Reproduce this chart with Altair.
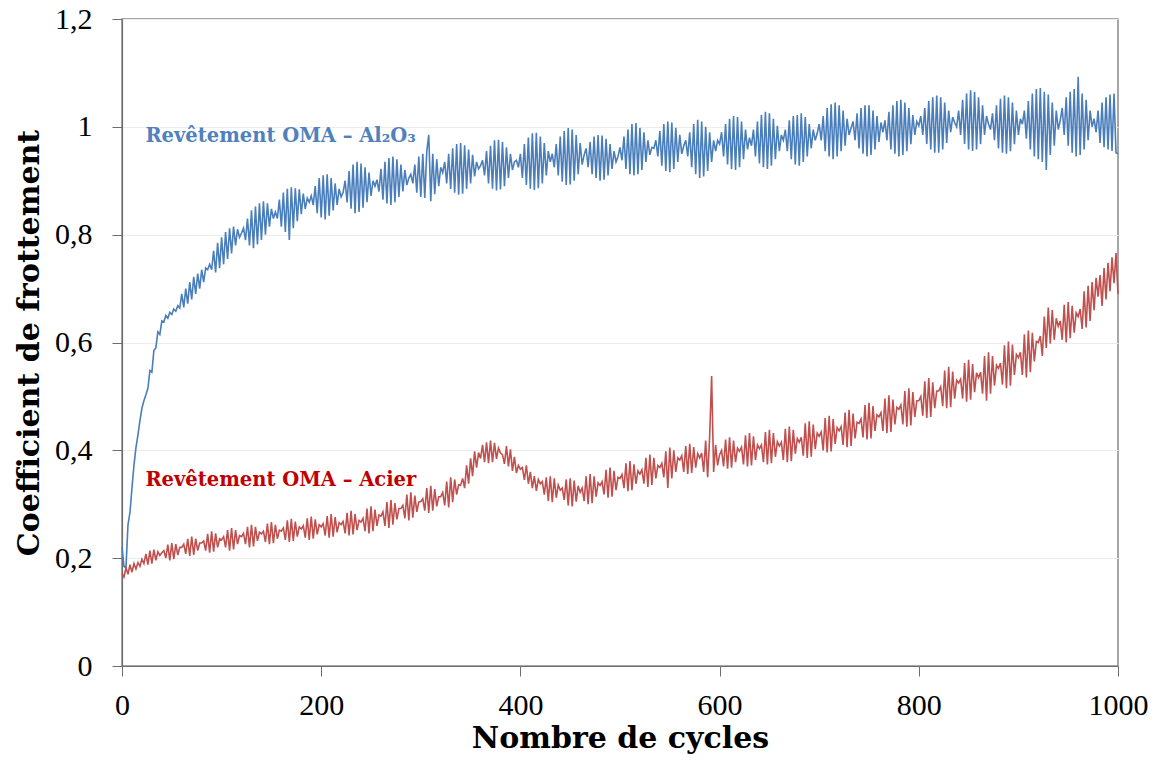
import altair as alt
import pandas as pd

# ---- data (cycles every 2) ----
blue_vals = [
    0.220, 0.185, 0.182, 0.262, 0.285, 0.330, 0.372, 0.405, 0.428, 0.455,
    0.478, 0.492, 0.503, 0.515, 0.548, 0.545, 0.585, 0.590, 0.620, 0.615,
    0.640, 0.638, 0.650, 0.645, 0.656, 0.652, 0.662, 0.658, 0.668, 0.664,
    0.690, 0.665, 0.700, 0.672, 0.712, 0.680, 0.722, 0.690, 0.728, 0.700,
    0.735, 0.712, 0.738, 0.735, 0.745, 0.735, 0.770, 0.730, 0.785, 0.738,
    0.795, 0.745, 0.805, 0.755, 0.812, 0.765, 0.815, 0.780, 0.810, 0.795,
    0.803, 0.812, 0.790, 0.830, 0.780, 0.845, 0.775, 0.852, 0.782, 0.858,
    0.790, 0.862, 0.800, 0.858, 0.815, 0.848, 0.830, 0.842, 0.830, 0.865,
    0.815, 0.878, 0.805, 0.885, 0.790, 0.888, 0.812, 0.886, 0.825, 0.884,
    0.838, 0.876, 0.848, 0.868, 0.860, 0.872, 0.855, 0.890, 0.840, 0.905,
    0.832, 0.910, 0.828, 0.912, 0.835, 0.905, 0.845, 0.895, 0.855, 0.885,
    0.870, 0.878, 0.900, 0.860, 0.918, 0.848, 0.930, 0.840, 0.935, 0.842,
    0.932, 0.850, 0.925, 0.860, 0.915, 0.872, 0.900, 0.890, 0.902, 0.880,
    0.922, 0.865, 0.935, 0.858, 0.942, 0.855, 0.945, 0.860, 0.940, 0.870,
    0.930, 0.880, 0.920, 0.892, 0.905, 0.912, 0.895, 0.930, 0.878, 0.945,
    0.870, 0.950, 0.868, 0.955, 0.985, 0.862, 0.950, 0.875, 0.940, 0.890,
    0.925, 0.915, 0.935, 0.895, 0.950, 0.885, 0.960, 0.878, 0.968, 0.874,
    0.970, 0.876, 0.966, 0.885, 0.958, 0.895, 0.948, 0.908, 0.935, 0.922,
    0.928, 0.938, 0.910, 0.955, 0.895, 0.965, 0.885, 0.975, 0.882, 0.976,
    0.884, 0.972, 0.890, 0.962, 0.905, 0.950, 0.920, 0.935, 0.938, 0.925,
    0.950, 0.905, 0.968, 0.892, 0.980, 0.885, 0.988, 0.883, 0.989, 0.886,
    0.982, 0.895, 0.970, 0.910, 0.955, 0.935, 0.950, 0.925, 0.968, 0.910,
    0.982, 0.898, 0.992, 0.892, 0.998, 0.893, 0.995, 0.900, 0.985, 0.912,
    0.970, 0.930, 0.948, 0.960, 0.925, 0.972, 0.912, 0.982, 0.905, 0.985,
    0.900, 0.984, 0.902, 0.978, 0.910, 0.968, 0.922, 0.955, 0.935, 0.945,
    0.962, 0.938, 0.982, 0.922, 0.995, 0.912, 1.005, 0.910, 1.007, 0.912,
    0.998, 0.920, 0.990, 0.935, 0.975, 0.948, 0.962, 0.960, 0.975, 0.945,
    0.992, 0.928, 1.005, 0.918, 1.010, 0.916, 1.008, 0.922, 0.998, 0.935,
    0.985, 0.950, 0.965, 0.975, 0.945, 0.990, 0.925, 1.005, 0.912, 1.013,
    0.905, 1.010, 0.908, 1.000, 0.918, 0.990, 0.935, 0.975, 0.955, 0.975,
    0.968, 0.990, 0.945, 1.005, 0.930, 1.015, 0.922, 1.020, 0.920, 1.018,
    0.925, 1.010, 0.940, 0.995, 0.958, 0.980, 0.965, 0.995, 0.945, 1.010,
    0.932, 1.022, 0.925, 1.028, 0.922, 1.025, 0.928, 1.015, 0.940, 1.002,
    0.955, 0.985, 0.975, 0.995, 0.955, 1.012, 0.940, 1.020, 0.930, 1.022,
    0.928, 1.025, 0.935, 1.018, 0.945, 1.005, 0.960, 0.995, 0.975, 0.988,
    1.005, 0.975, 1.020, 0.955, 1.035, 0.945, 1.042, 0.940, 1.045, 0.945,
    1.040, 0.955, 1.030, 0.965, 1.015, 0.985, 0.998, 1.010, 0.975, 1.025,
    0.960, 1.035, 0.950, 1.040, 0.945, 1.040, 0.948, 1.030, 0.958, 1.020,
    0.972, 1.008, 0.990, 1.012, 0.975, 1.028, 0.958, 1.040, 0.950, 1.048,
    0.945, 1.050, 0.948, 1.045, 0.955, 1.035, 0.968, 1.022, 0.985, 1.010,
    1.002, 1.020, 0.985, 1.035, 0.968, 1.048, 0.958, 1.055, 0.952, 1.058,
    0.952, 1.055, 0.958, 1.045, 0.970, 1.030, 0.990, 1.018, 1.008, 1.000,
    1.030, 0.985, 1.050, 0.968, 1.062, 0.958, 1.068, 0.955, 1.065, 0.958,
    1.055, 0.968, 1.040, 0.985, 1.020, 1.005, 0.995, 1.025, 0.975, 1.040,
    0.960, 1.052, 0.952, 1.058, 0.950, 1.055, 0.955, 1.045, 0.968, 1.030,
    0.985, 1.015, 1.005, 1.030, 0.978, 1.048, 0.958, 1.062, 0.945, 1.070,
    0.940, 1.072, 0.935, 1.065, 0.920, 1.060, 0.948, 1.045, 0.965, 1.030,
    0.995, 1.012, 1.035, 0.985, 1.055, 0.965, 1.065, 0.952, 1.070, 0.945,
    1.093, 0.948, 1.062, 0.958, 1.050, 0.975, 1.030, 1.000, 1.015, 0.990,
    1.030, 0.970, 1.045, 0.962, 1.055, 0.958, 1.060, 0.955, 1.062, 0.952,
    0.950,
]

red_vals = [
    0.172, 0.165, 0.182, 0.170, 0.188, 0.174, 0.190, 0.180, 0.192, 0.185,
    0.198, 0.190, 0.208, 0.188, 0.214, 0.190, 0.216, 0.196, 0.212, 0.205,
    0.210, 0.214, 0.200, 0.225, 0.196, 0.228, 0.198, 0.226, 0.206, 0.220,
    0.220, 0.226, 0.208, 0.236, 0.204, 0.240, 0.206, 0.236, 0.214, 0.228,
    0.228, 0.232, 0.214, 0.245, 0.210, 0.250, 0.212, 0.246, 0.220, 0.236,
    0.234, 0.240, 0.220, 0.252, 0.214, 0.256, 0.216, 0.252, 0.226, 0.242,
    0.240, 0.246, 0.226, 0.258, 0.220, 0.262, 0.222, 0.258, 0.232, 0.248,
    0.245, 0.250, 0.230, 0.264, 0.226, 0.267, 0.228, 0.262, 0.236, 0.252,
    0.250, 0.256, 0.234, 0.270, 0.230, 0.273, 0.232, 0.268, 0.240, 0.258,
    0.254, 0.260, 0.238, 0.274, 0.234, 0.277, 0.236, 0.272, 0.244, 0.262,
    0.258, 0.264, 0.242, 0.278, 0.238, 0.282, 0.240, 0.276, 0.248, 0.266,
    0.262, 0.268, 0.246, 0.284, 0.242, 0.288, 0.244, 0.282, 0.252, 0.270,
    0.267, 0.274, 0.250, 0.292, 0.246, 0.296, 0.250, 0.290, 0.260, 0.280,
    0.278, 0.286, 0.260, 0.304, 0.256, 0.308, 0.262, 0.302, 0.272, 0.292,
    0.292, 0.298, 0.274, 0.318, 0.270, 0.322, 0.275, 0.316, 0.286, 0.304,
    0.305, 0.310, 0.288, 0.330, 0.284, 0.334, 0.288, 0.328, 0.296, 0.314,
    0.314, 0.322, 0.298, 0.342, 0.294, 0.350, 0.304, 0.346, 0.318, 0.336,
    0.335, 0.348, 0.330, 0.372, 0.338, 0.385, 0.352, 0.398, 0.368, 0.396,
    0.385, 0.410, 0.378, 0.415, 0.376, 0.418, 0.378, 0.414, 0.384, 0.404,
    0.395, 0.392, 0.375, 0.408, 0.370, 0.402, 0.362, 0.388, 0.358, 0.372,
    0.365, 0.368, 0.345, 0.372, 0.338, 0.360, 0.330, 0.352, 0.325, 0.346,
    0.338, 0.342, 0.318, 0.350, 0.306, 0.352, 0.304, 0.348, 0.312, 0.336,
    0.326, 0.330, 0.308, 0.346, 0.298, 0.348, 0.296, 0.344, 0.305, 0.334,
    0.322, 0.330, 0.306, 0.352, 0.300, 0.356, 0.302, 0.352, 0.314, 0.340,
    0.335, 0.342, 0.318, 0.364, 0.312, 0.368, 0.314, 0.362, 0.326, 0.350,
    0.348, 0.355, 0.330, 0.376, 0.324, 0.380, 0.326, 0.374, 0.338, 0.362,
    0.356, 0.364, 0.338, 0.386, 0.332, 0.392, 0.336, 0.386, 0.348, 0.372,
    0.368, 0.376, 0.350, 0.398, 0.330, 0.405, 0.348, 0.400, 0.360, 0.386,
    0.382, 0.390, 0.360, 0.408, 0.356, 0.412, 0.358, 0.406, 0.368, 0.394,
    0.386, 0.395, 0.360, 0.418, 0.350, 0.425, 0.538, 0.360, 0.410, 0.372,
    0.392, 0.400, 0.370, 0.420, 0.366, 0.424, 0.368, 0.418, 0.378, 0.404,
    0.398, 0.406, 0.374, 0.428, 0.370, 0.432, 0.372, 0.426, 0.382, 0.410,
    0.403, 0.410, 0.378, 0.434, 0.374, 0.438, 0.376, 0.432, 0.388, 0.416,
    0.408, 0.415, 0.382, 0.440, 0.378, 0.444, 0.380, 0.438, 0.394, 0.422,
    0.415, 0.424, 0.390, 0.450, 0.386, 0.454, 0.388, 0.448, 0.402, 0.432,
    0.426, 0.434, 0.400, 0.460, 0.396, 0.464, 0.398, 0.458, 0.412, 0.442,
    0.436, 0.444, 0.410, 0.470, 0.406, 0.475, 0.408, 0.468, 0.422, 0.452,
    0.450, 0.458, 0.424, 0.484, 0.420, 0.488, 0.422, 0.482, 0.436, 0.466,
    0.462, 0.470, 0.436, 0.496, 0.432, 0.502, 0.434, 0.494, 0.448, 0.480,
    0.476, 0.484, 0.448, 0.510, 0.444, 0.515, 0.446, 0.508, 0.462, 0.492,
    0.492, 0.500, 0.464, 0.528, 0.460, 0.534, 0.462, 0.526, 0.478, 0.510,
    0.510, 0.518, 0.482, 0.548, 0.478, 0.555, 0.480, 0.546, 0.496, 0.530,
    0.525, 0.532, 0.496, 0.562, 0.490, 0.568, 0.494, 0.560, 0.508, 0.544,
    0.535, 0.545, 0.505, 0.575, 0.492, 0.582, 0.505, 0.575, 0.520, 0.558,
    0.552, 0.562, 0.522, 0.595, 0.515, 0.602, 0.520, 0.596, 0.540, 0.578,
    0.572, 0.582, 0.540, 0.615, 0.535, 0.622, 0.545, 0.618, 0.565, 0.602,
    0.600, 0.612, 0.575, 0.648, 0.590, 0.665, 0.598, 0.660, 0.605, 0.645,
    0.630, 0.640, 0.605, 0.670, 0.600, 0.675, 0.608, 0.668, 0.618, 0.655,
    0.648, 0.662, 0.625, 0.695, 0.628, 0.705, 0.640, 0.712, 0.660, 0.720,
    0.685, 0.725, 0.668, 0.738, 0.680, 0.748, 0.695, 0.758, 0.710, 0.766,
    0.690,
]

STEP = 2
blue_cycles = [i * STEP for i in range(len(blue_vals))]
red_cycles = [i * STEP for i in range(len(red_vals))]

x_ticks = [0, 200, 400, 600, 800, 1000]
y_ticks = [0, 0.2, 0.4, 0.6, 0.8, 1.0, 1.2]

label_texts = ["Revêtement OMA – Al₂O₃", "Revêtement OMA – Acier"]
label_x = [23.5, 23.5]
label_y = [0.972, 0.334]

BLUE = "#4a7ebb"
RED = "#c0504d"
BLUE_TXT = "#4f81bd"
RED_TXT = "#c00000"

df_blue = pd.DataFrame({"cycle": blue_cycles, "mu": blue_vals})
df_red = pd.DataFrame({"cycle": red_cycles, "mu": red_vals})

x_enc = alt.X(
    "cycle:Q",
    scale=alt.Scale(domain=[0, 1000], nice=False, zero=False),
    axis=alt.Axis(
        values=x_ticks,
        format="d",
        title="Nombre de cycles",
        grid=False,
        tickSize=10,
        labelPadding=14,
        labelFlush=False,
        titleY=81,
        titleBaseline="alphabetic",
    ),
)
y_enc = alt.Y(
    "mu:Q",
    scale=alt.Scale(domain=[0, 1.2], nice=False),
    axis=alt.Axis(
        values=y_ticks,
        title="Coefficient de frottement",
        grid=True,
        tickSize=10,
        labelPadding=20,
        labelFlush=False,
        labelExpr="replace(format(datum.value, '.1~f'), '.', ',')",
        titleX=-84,
        titleBaseline="alphabetic",
    ),
)

blue_line = alt.Chart(df_blue).mark_line(color=BLUE, strokeWidth=1.6).encode(x=x_enc, y=y_enc)
red_line = alt.Chart(df_red).mark_line(color=RED, strokeWidth=1.6).encode(x="cycle:Q", y="mu:Q")

lab_df = pd.DataFrame({"cycle": label_x, "mu": label_y, "t": label_texts, "c": [BLUE_TXT, RED_TXT]})
labels = alt.Chart(lab_df).mark_text(
    align="left", baseline="alphabetic", font="DejaVu Serif", fontWeight="bold", fontSize=19.5
).encode(x="cycle:Q", y="mu:Q", text="t:N", color=alt.Color("c:N", scale=None))

chart = alt.layer(blue_line, red_line, labels).properties(
    width=996,
    height=647,
    padding={"left": 114, "top": 11, "right": 30, "bottom": 90},
    autosize=alt.AutoSizeParams(type="none"),
).configure_view(
    stroke="#898989", strokeWidth=1.5
).configure_axis(
    domainColor="#6e6e6e",
    domainWidth=1.2,
    tickColor="#6e6e6e",
    tickWidth=1,
    gridColor="#ececec",
    gridWidth=1,
    labelFont="Liberation Serif",
    labelFontSize=30,
    labelColor="#000000",
    titleFont="DejaVu Serif",
    titleFontWeight="bold",
    titleFontSize=30,
    titleColor="#000000",
)

chart.save("out.html", embed_options={"renderer": "svg", "actions": False})
